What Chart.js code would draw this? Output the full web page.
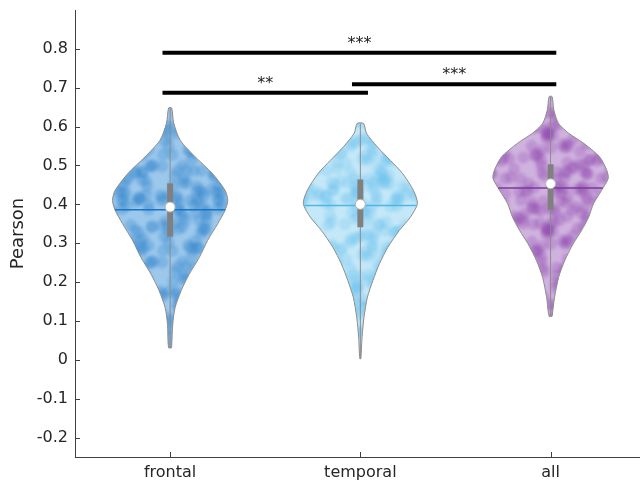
<!DOCTYPE html>
<html lang="en">
<head>
    <meta charset="UTF-8">
    <title>Pearson violin plot</title>
    <script src="https://cdn.jsdelivr.net/npm/chart.js@4.4.1/dist/chart.umd.min.js"></script>
    <style>
        body { margin: 0; background: #fff; overflow: hidden; }
        .wrap { width: 646px; height: 486px; }
    </style>
</head>
<body>
    <div class="wrap"><canvas id="violin"></canvas></div>
    <script>
        const groups = ['frontal', 'temporal', 'all'];

        // violin outlines: value levels and half widths (x units)
        const frontalLevels = [0.031, 0.092, 0.134, 0.178, 0.22, 0.263, 0.307, 0.35, 0.385, 0.41, 0.436, 0.48, 0.522, 0.565, 0.609, 0.648];
        const frontalWidth  = [0.008, 0.014, 0.026, 0.058, 0.1, 0.153, 0.197, 0.25, 0.289, 0.303, 0.289, 0.221, 0.132, 0.053, 0.019, 0.008];
        const temporalLevels = [0.003, 0.058, 0.109, 0.161, 0.204, 0.247, 0.29, 0.333, 0.367, 0.402, 0.436, 0.48, 0.513, 0.548, 0.583, 0.608];
        const temporalWidth  = [0.003, 0.009, 0.019, 0.037, 0.066, 0.1, 0.145, 0.205, 0.263, 0.3, 0.279, 0.221, 0.158, 0.089, 0.032, 0.017];
        const allLevels = [0.112, 0.161, 0.212, 0.255, 0.298, 0.333, 0.367, 0.402, 0.436, 0.467, 0.488, 0.522, 0.557, 0.583, 0.608, 0.643, 0.677];
        const allWidth  = [0.008, 0.021, 0.042, 0.074, 0.118, 0.163, 0.2, 0.226, 0.268, 0.303, 0.295, 0.258, 0.174, 0.095, 0.042, 0.017, 0.008];

        const medians = [0.386, 0.397, 0.442];
        const means = [0.393, 0.400, 0.453];
        const q1 = [0.317, 0.341, 0.386];
        const q3 = [0.454, 0.464, 0.503];

        // significance bars
        const sigFrom = [-0.04, -0.04, 0.956];
        const sigTo = [2.03, 1.04, 2.03];
        const sigY = [0.79, 0.687, 0.709];
        const sigText = ['***', '**', '***'];

        const yTicks = [-0.2, -0.1, 0, 0.1, 0.2, 0.3, 0.4, 0.5, 0.6, 0.7, 0.8];

        const baseColors = ['#9cc8ec', '#c4e8f8', '#d0b2df'];
        const blobColors = ['rgba(45,130,205,0.27)', 'rgba(90,188,235,0.22)', 'rgba(135,60,168,0.24)'];
        const medianColors = ['#1a75c4', '#4db6e6', '#7a3b9a'];
        const levels = [frontalLevels, temporalLevels, allLevels];
        const widths = [frontalWidth, temporalWidth, allWidth];

        // blotchy texture for the violin body (only a look, not data)
        function hash(n) {
            const s = Math.sin(n * 12.9898 + 78.233) * 43758.5453;
            return s - Math.floor(s);
        }
        function makePattern(base, blob, seed) {
            const size = 96;
            const c = document.createElement('canvas');
            c.width = size; c.height = size;
            const g = c.getContext('2d');
            g.fillStyle = base;
            g.fillRect(0, 0, size, size);
            g.fillStyle = blob;
            g.filter = 'blur(1.5px)';
            for (let i = 0; i < 110; i++) {
                const px = hash(i + seed * 1000) * size;
                const py = hash(i * 7.13 + seed * 333) * size;
                for (let dx = -size; dx <= size; dx += size) {
                    for (let dy = -size; dy <= size; dy += size) {
                        g.beginPath();
                        g.arc(px + dx, py + dy, 6, 0, Math.PI * 2);
                        g.fill();
                    }
                }
            }
            return g.createPattern(c, 'repeat');
        }

        function widthAt(lv, wd, v) {
            for (let i = 1; i < lv.length; i++) {
                if (v <= lv[i]) {
                    const t = (v - lv[i - 1]) / (lv[i] - lv[i - 1]);
                    return wd[i - 1] + t * (wd[i] - wd[i - 1]);
                }
            }
            return wd[wd.length - 1];
        }

        const datasets = [];
        groups.forEach((g, k) => {
            const lv = levels[k], wd = widths[k];
            const outline = [];
            lv.forEach((v, i) => outline.push({x: k + wd[i], y: v}));
            for (let i = lv.length - 1; i >= 0; i--) outline.push({x: k - wd[i], y: lv[i]});
            outline.push(outline[0]);
            datasets.push({
                data: outline, showLine: true, pointRadius: 0, tension: 0.25,
                borderColor: '#8c8c8c', borderWidth: 1,
                backgroundColor: makePattern(baseColors[k], blobColors[k], k + 1),
                fill: 'shape', order: 6
            });
            const hw = widthAt(lv, wd, medians[k]);
            datasets.push({
                data: [{x: k - hw, y: medians[k]}, {x: k + hw, y: medians[k]}],
                showLine: true, pointRadius: 0, borderColor: medianColors[k], borderWidth: 1.5, order: 4
            });
            datasets.push({
                data: [{x: k, y: lv[0]}, {x: k, y: lv[lv.length - 1]}],
                showLine: true, pointRadius: 0, borderColor: '#8c8c8c', borderWidth: 1, order: 3
            });
            datasets.push({
                data: [{x: k, y: q1[k]}, {x: k, y: q3[k]}],
                showLine: true, pointRadius: 0, borderColor: '#808080', borderWidth: 6,
                borderCapStyle: 'butt', order: 2
            });
            datasets.push({
                data: [{x: k, y: means[k]}],
                pointRadius: 5, pointBackgroundColor: '#ffffff', pointBorderColor: '#b0b0b0',
                pointBorderWidth: 1, order: 1
            });
        });
        sigFrom.forEach((f, i) => {
            datasets.push({
                data: [{x: f, y: sigY[i]}, {x: sigTo[i], y: sigY[i]}],
                showLine: true, pointRadius: 0, borderColor: '#000', borderWidth: 4,
                borderCapStyle: 'butt', order: 0
            });
        });

        // stars over the bars and inward tick marks
        const extras = {
            id: 'extras',
            afterDatasetsDraw(chart) {
                const ctx = chart.ctx, xs = chart.scales.x, ys = chart.scales.y;
                ctx.save();
                ctx.fillStyle = '#222';
                ctx.font = '16px "DejaVu Sans"';
                ctx.textAlign = 'center';
                ctx.textBaseline = 'alphabetic';
                sigText.forEach((t, i) => {
                    ctx.fillText(t, xs.getPixelForValue((sigFrom[i] + sigTo[i]) / 2), ys.getPixelForValue(sigY[i]) - 5);
                });
                ctx.strokeStyle = '#404040';
                ctx.lineWidth = 1;
                ctx.beginPath();
                yTicks.forEach(v => {
                    const p = Math.round(ys.getPixelForValue(v)) + 0.5;
                    ctx.moveTo(xs.left, p); ctx.lineTo(xs.left + 5, p);
                });
                [0, 1, 2].forEach(v => {
                    const p = Math.round(xs.getPixelForValue(v)) + 0.5;
                    ctx.moveTo(p, ys.bottom); ctx.lineTo(p, ys.bottom - 5);
                });
                ctx.stroke();
                ctx.restore();
            }
        };

        new Chart(document.getElementById('violin'), {
            type: 'scatter',
            data: { datasets },
            plugins: [extras],
            options: {
                responsive: true,
                maintainAspectRatio: false,
                animation: false,
                layout: { padding: { top: 10, right: 0, left: 0, bottom: 0 } },
                plugins: { legend: { display: false }, tooltip: { enabled: false } },
                scales: {
                    x: {
                        type: 'linear', min: -0.5, max: 2.47,
                        afterBuildTicks: s => { s.ticks = [0, 1, 2].map(v => ({value: v})); },
                        afterFit: s => { s.height = 29; s.paddingLeft = 0; s.paddingRight = 0; },
                        ticks: {
                            callback: v => groups[v], color: '#262626', padding: 6,
                            font: { family: 'DejaVu Sans', size: 16 }
                        },
                        grid: { display: false, drawTicks: false },
                        border: { display: true, color: '#404040', width: 1 }
                    },
                    y: {
                        min: -0.25, max: 0.9,
                        afterBuildTicks: s => { s.ticks = yTicks.map(v => ({value: v})); },
                        afterFit: s => { s.width = 75; s.paddingTop = 0; s.paddingBottom = 0; },
                        ticks: {
                            callback: v => String(Math.round(v * 10) / 10), color: '#262626', padding: 7,
                            font: { family: 'DejaVu Sans', size: 16 }
                        },
                        title: {
                            display: true, text: 'Pearson', color: '#262626',
                            font: { family: 'DejaVu Sans', size: 18 }, padding: { top: 8, bottom: 0 }
                        },
                        grid: { display: false, drawTicks: false },
                        border: { display: true, color: '#404040', width: 1 }
                    }
                }
            }
        });
    </script>
</body>
</html>
